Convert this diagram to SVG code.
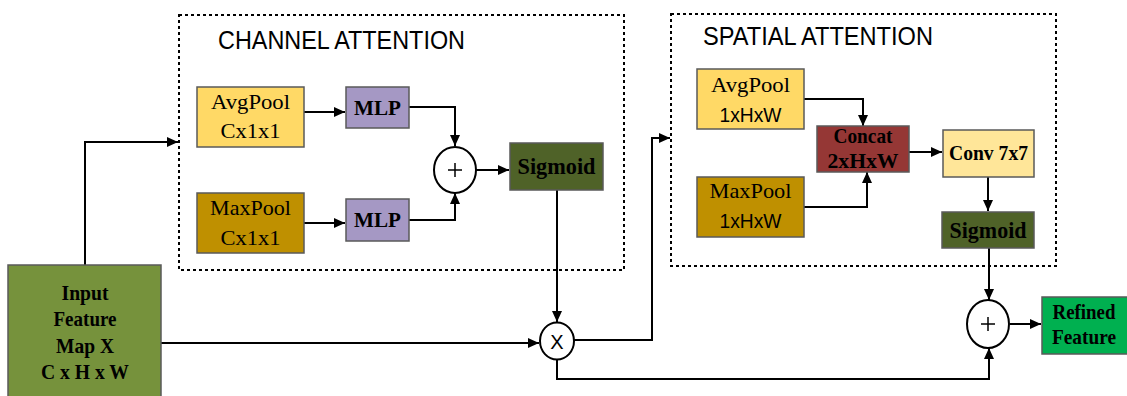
<svg xmlns="http://www.w3.org/2000/svg" width="1127" height="396" viewBox="0 0 1127 396">
<defs>
<marker id="arr" markerUnits="userSpaceOnUse" markerWidth="11" markerHeight="10" refX="11" refY="5" orient="auto">
<path d="M0,0 L11,5 L0,10 z" fill="#000"/>
</marker>
<style>
.box{stroke:#5a5a5a;stroke-width:1.5}
.grp{fill:none;stroke:#000;stroke-width:2;stroke-dasharray:3,3}
.c{fill:none;stroke:#000;stroke-width:2;marker-end:url(#arr)}
.op{fill:#fff;stroke:#000;stroke-width:2}
.t{font-family:"Liberation Serif","Times New Roman",serif;font-size:22px;text-anchor:middle;fill:#000}
.b{font-family:"Liberation Serif","Times New Roman",serif;font-weight:bold;font-size:21px;text-anchor:middle;fill:#000}
.s{font-family:"Liberation Sans",Arial,sans-serif;font-size:21px;text-anchor:middle;fill:#000}
.h{font-family:"Liberation Sans",Arial,sans-serif;font-size:25px;fill:#000}
</style>
</defs>
<rect width="1127" height="396" fill="#fff"/>
<g id="channel-attention">
<rect class="grp" x="179" y="15" width="445" height="255"/>
<text class="h" x="218" y="49" textLength="247" lengthAdjust="spacingAndGlyphs">CHANNEL ATTENTION</text>
</g>
<g id="spatial-attention">
<rect class="grp" x="671" y="14" width="385" height="252"/>
<text class="h" x="703" y="45" textLength="230" lengthAdjust="spacingAndGlyphs">SPATIAL ATTENTION</text>
</g>
<g id="connectors">
<polyline class="c" points="85,265 85,142 178,142"/>
<polyline class="c" points="304,112 345,112"/>
<polyline class="c" points="304,223 345,223"/>
<polyline class="c" points="409,107 455,107 455,146"/>
<polyline class="c" points="409,220 455,220 455,193"/>
<polyline class="c" points="476,170 509,170"/>
<polyline class="c" points="557,190 557,322"/>
<polyline class="c" points="161,343 539,343"/>
<polyline class="c" points="574,340 652,340 652,138 670,138"/>
<polyline class="c" points="804,99 863,99 863,126"/>
<polyline class="c" points="804,207 867,207 867,172"/>
<polyline class="c" points="909,152 942,152"/>
<polyline class="c" points="988,177 988,211"/>
<polyline class="c" points="989,248 989,300"/>
<polyline class="c" points="557,360 557,379 989,379 989,348"/>
<polyline class="c" points="1010,324 1041,324"/>
</g>
<g id="input">
<rect class="box" x="8" y="265" width="153" height="140" fill="#76923C"/>
<text class="b" x="85" y="300" textLength="47" lengthAdjust="spacingAndGlyphs">Input</text>
<text class="b" x="85" y="326" textLength="63" lengthAdjust="spacingAndGlyphs">Feature</text>
<text class="b" x="85" y="353" textLength="58" lengthAdjust="spacingAndGlyphs">Map X</text>
<text class="b" x="85" y="379" textLength="88" lengthAdjust="spacingAndGlyphs">C x H x W</text>
</g>
<g id="ch-avgpool">
<rect class="box" x="197" y="87" width="107" height="60" fill="#FFD966"/>
<text class="t" x="250.5" y="109" textLength="79" lengthAdjust="spacingAndGlyphs">AvgPool</text>
<text class="t" x="250.5" y="138" textLength="60" lengthAdjust="spacingAndGlyphs">Cx1x1</text>
</g>
<g id="ch-maxpool">
<rect class="box" x="197" y="193" width="107" height="60" fill="#BF9000"/>
<text class="t" x="250.5" y="215" textLength="81" lengthAdjust="spacingAndGlyphs">MaxPool</text>
<text class="t" x="250.5" y="245" textLength="60" lengthAdjust="spacingAndGlyphs">Cx1x1</text>
</g>
<g id="ch-mlp1">
<rect class="box" x="346" y="87" width="63" height="41" fill="#A598C4"/>
<text class="b" x="377.5" y="115" style="font-size:22px" textLength="47" lengthAdjust="spacingAndGlyphs">MLP</text>
</g>
<g id="ch-mlp2">
<rect class="box" x="346" y="199" width="63" height="42" fill="#A598C4"/>
<text class="b" x="377.5" y="227" style="font-size:22px" textLength="47" lengthAdjust="spacingAndGlyphs">MLP</text>
</g>
<g id="ch-add">
<ellipse class="op" cx="455" cy="170" rx="21" ry="23"/>
<path d="M448,170 H462 M455,163 V177" stroke="#000" stroke-width="1.5"/>
</g>
<g id="ch-sigmoid">
<rect class="box" x="510" y="143" width="93" height="47" fill="#4F6228"/>
<text class="b" x="556.5" y="174" style="font-size:23px" textLength="78" lengthAdjust="spacingAndGlyphs">Sigmoid</text>
</g>
<g id="multiply">
<ellipse class="op" cx="557" cy="341" rx="17" ry="18.5"/>
<text class="s" x="557" y="349" style="font-size:20px">X</text>
</g>
<g id="sp-avgpool">
<rect class="box" x="697" y="69" width="107" height="60" fill="#FFD966"/>
<text class="t" x="750.5" y="92" textLength="79" lengthAdjust="spacingAndGlyphs">AvgPool</text>
<text class="s" x="750.5" y="122" textLength="62" lengthAdjust="spacingAndGlyphs">1xHxW</text>
</g>
<g id="sp-maxpool">
<rect class="box" x="697" y="177" width="107" height="60" fill="#BF9000"/>
<text class="t" x="750.5" y="198" textLength="82" lengthAdjust="spacingAndGlyphs">MaxPool</text>
<text class="s" x="750.5" y="228" textLength="62" lengthAdjust="spacingAndGlyphs">1xHxW</text>
</g>
<g id="sp-concat">
<rect class="box" x="817" y="126" width="92" height="46" fill="#953735"/>
<text class="b" x="863" y="143" textLength="59" lengthAdjust="spacingAndGlyphs">Concat</text>
<text class="b" x="863" y="168" textLength="71" lengthAdjust="spacingAndGlyphs">2xHxW</text>
</g>
<g id="sp-conv">
<rect class="box" x="943" y="130" width="91" height="47" fill="#FFE699"/>
<text class="b" x="988.5" y="160" textLength="79" lengthAdjust="spacingAndGlyphs">Conv 7x7</text>
</g>
<g id="sp-sigmoid">
<rect class="box" x="942" y="212" width="92" height="36" fill="#4F6228"/>
<text class="b" x="988" y="238" style="font-size:23px" textLength="77" lengthAdjust="spacingAndGlyphs">Sigmoid</text>
</g>
<g id="add-final">
<ellipse class="op" cx="988" cy="324" rx="21" ry="24"/>
<path d="M981,324 H995 M988,317 V331" stroke="#000" stroke-width="1.5"/>
</g>
<g id="refined">
<rect class="box" x="1042" y="297" width="90" height="57" fill="#00B050"/>
<text class="b" x="1084" y="319" textLength="63" lengthAdjust="spacingAndGlyphs">Refined</text>
<text class="b" x="1084" y="344" textLength="64" lengthAdjust="spacingAndGlyphs">Feature</text>
</g>
</svg>
